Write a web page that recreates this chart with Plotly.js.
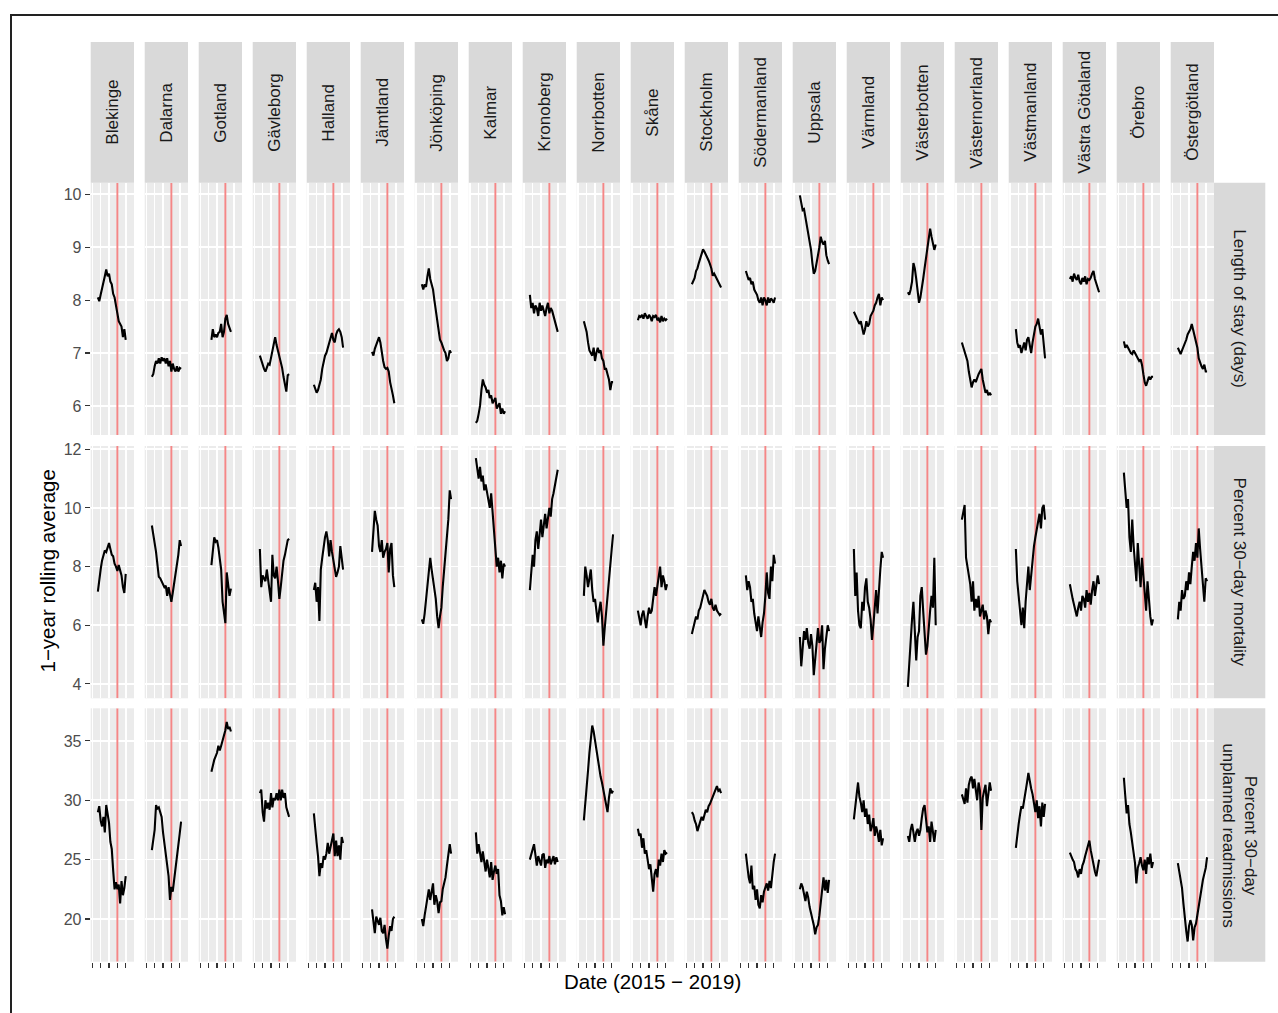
<!DOCTYPE html>
<html><head><meta charset="utf-8">
<script src="https://cdn.plot.ly/plotly-3.0.1.min.js"></script>
<style>html,body{margin:0;padding:0;background:#fff}#chart{width:1278px;height:1013px}</style>
</head><body><div id="chart"></div>
<script>
const _ = null;
const regions = ['Blekinge','Dalarna','Gotland','Gävleborg','Halland','Jämtland','Jönköping','Kalmar','Kronoberg','Norrbotten','Skåne','Stockholm','Södermanland','Uppsala','Värmland','Västerbotten','Västernorrland','Västmanland','Västra Götaland','Örebro','Östergötland'];
const metrics = ['Length of stay (days)','Percent 30−day mortality','Percent 30−day<br>unplanned readmissions'];
const dates = ['2015-09-01','2015-11-01','2016-01-01','2016-03-01','2016-05-01','2016-07-01','2016-09-01','2016-11-01','2017-01-01','2017-03-01','2017-05-01','2017-07-01','2017-09-01','2017-11-01','2018-01-01','2018-03-01','2018-05-01','2018-07-01','2018-09-01','2018-11-01','2019-01-01','2019-03-01'];
const yearTicks = ['2015-01-01','2016-01-01','2017-01-01','2018-01-01','2019-01-01'];
const interventionDate = '2018-01-01';
const yTickVals = [[6,7,8,9,10],[4,6,8,10,12],[20,25,30,35]];

const lengthOfStay = [
 [8.05,7.98,8.1,8.2,8.3,8.45,8.58,8.45,8.5,8.35,8.3,8.12,8.05,7.93,7.75,7.6,7.55,7.5,7.3,7.45,7.25,_],
 [6.55,6.6,6.75,6.85,6.8,6.9,6.8,6.92,6.85,6.9,6.8,6.9,6.75,6.85,6.65,6.8,6.7,6.65,6.75,6.65,6.72,6.7],
 [_,_,_,_,7.25,7.45,7.3,7.35,7.3,7.38,7.4,7.55,7.3,7.4,7.65,7.72,7.55,7.45,7.4,_,_,_],
 [6.95,6.85,6.75,6.7,6.65,6.75,6.8,6.78,6.9,7.0,7.15,7.3,7.15,7.05,6.9,6.8,6.72,6.55,6.4,6.27,6.58,6.6],
 [6.4,6.3,6.25,6.3,6.4,6.5,6.7,6.85,6.95,7.0,7.1,7.2,7.33,7.38,7.25,7.2,7.35,7.42,7.45,7.4,7.3,7.1],
 [_,_,_,7.02,6.95,7.08,7.15,7.24,7.3,7.2,7.0,6.85,6.73,6.7,6.72,6.65,6.45,6.35,6.2,6.05,_,_],
 [8.3,8.2,8.3,8.25,8.45,8.6,8.4,8.3,8.2,8.0,7.8,7.55,7.4,7.25,7.2,7.1,7.05,7.0,6.85,6.9,7.05,7.0],
 [5.68,5.72,5.85,6.0,6.3,6.5,6.4,6.35,6.25,6.3,6.15,6.2,6.05,6.1,6.15,5.95,6.0,6.05,5.85,5.95,5.85,5.9],
 [8.1,7.85,7.95,7.75,7.9,7.85,7.7,7.95,7.8,7.9,7.8,7.7,7.85,7.95,7.75,7.85,7.8,7.7,7.6,7.55,7.4,_],
 [7.6,7.5,7.4,7.2,7.05,7.0,6.95,7.1,6.85,7.0,7.1,7.0,7.05,6.9,6.85,6.7,6.7,6.6,6.5,6.3,6.45,6.45],
 [7.62,7.7,7.68,7.72,7.65,7.75,7.7,7.65,7.72,7.68,7.6,7.7,7.68,7.72,7.62,7.65,7.58,7.7,7.6,7.65,7.62,7.65],
 [8.3,8.35,8.42,8.55,8.6,8.7,8.78,8.85,8.96,8.92,8.87,8.8,8.75,8.68,8.6,8.46,8.5,8.45,8.4,8.34,8.3,8.24],
 [8.55,8.45,8.38,8.42,8.3,8.35,8.2,8.15,8.1,8.0,7.95,8.05,7.9,8.05,8.0,7.9,8.05,7.95,8.03,8.0,7.95,8.05],
 [9.98,9.85,9.7,9.72,9.55,9.45,9.3,9.1,8.95,8.7,8.5,8.55,8.75,8.85,9.0,9.2,9.1,9.05,9.12,8.85,8.75,8.68],
 [7.78,7.72,7.68,7.62,7.55,7.6,7.45,7.35,7.45,7.6,7.5,7.55,7.7,7.75,7.8,7.9,7.95,8.05,8.12,7.9,8.05,8.0],
 [8.15,8.1,8.2,8.35,8.7,8.6,8.4,8.2,7.95,8.05,8.2,8.4,8.6,8.8,9.0,9.25,9.35,9.2,9.1,8.95,9.05,_],
 [7.2,7.1,7.05,6.9,6.85,6.65,6.5,6.35,6.45,6.5,6.45,6.55,6.6,6.65,6.7,6.5,6.4,6.25,6.3,6.2,6.25,6.2],
 [7.45,7.2,7.1,7.15,7.0,7.1,7.2,7.05,7.25,7.3,7.15,7.0,7.2,7.4,7.5,7.55,7.65,7.5,7.35,7.45,7.2,6.9],
 [8.4,8.45,8.35,8.5,8.42,8.38,8.48,8.35,8.3,8.42,8.35,8.45,8.3,8.4,8.38,8.42,8.5,8.55,8.4,8.3,8.2,8.15],
 [7.22,7.1,7.15,7.1,7.05,7.0,6.98,7.05,7.0,6.95,6.92,6.85,6.88,6.78,6.6,6.45,6.38,6.48,6.55,6.5,6.55,6.55],
 [7.1,7.05,6.98,7.05,7.12,7.15,7.25,7.35,7.4,7.45,7.55,7.45,7.3,7.2,7.1,6.9,6.8,6.75,6.7,6.78,6.65,6.65]
];

const mortality = [
 [7.15,7.6,7.9,8.2,8.35,8.55,8.5,8.7,8.8,8.6,8.4,8.35,8.1,8.0,7.85,8.05,7.9,7.7,7.3,7.1,7.75,_],
 [9.4,9.0,8.8,8.5,8.0,7.65,7.6,7.5,7.45,7.3,7.35,7.0,7.3,7.05,6.8,7.1,7.4,7.85,8.1,8.4,8.9,8.7],
 [_,_,_,_,8.05,8.5,9.0,8.85,8.9,8.65,8.3,7.9,6.8,6.5,6.07,7.8,7.3,7.0,7.25,_,_,_],
 [8.6,7.3,7.7,7.6,7.5,7.9,7.5,7.2,6.8,8.4,7.7,7.6,8.0,7.5,6.9,7.3,7.8,8.2,8.4,8.7,8.9,8.95],
 [7.2,7.45,6.8,7.3,6.15,7.9,8.3,8.7,9.0,9.2,8.9,8.35,8.9,8.5,8.2,7.9,7.65,7.8,8.0,8.7,8.2,7.9],
 [_,_,_,8.5,9.3,9.9,9.6,9.4,8.7,8.5,8.9,8.3,8.5,8.6,8.8,7.8,8.6,8.8,7.7,7.3,_,_],
 [6.2,6.05,6.4,6.9,7.5,8.0,8.3,7.9,7.6,7.3,6.9,6.3,5.9,6.3,6.6,7.3,7.9,8.3,9.0,9.6,10.6,10.3],
 [11.7,11.3,11.0,11.4,10.9,11.1,10.6,10.8,10.5,10.2,10.0,10.5,9.8,9.0,8.4,8.0,8.3,7.8,8.2,7.6,8.1,8.0],
 [7.2,7.8,8.4,8.0,8.9,9.2,8.6,9.1,9.6,9.0,9.4,9.8,9.3,9.6,10.0,9.7,10.3,10.5,10.8,11.0,11.3,_],
 [7.0,8.0,7.7,7.3,7.6,7.9,7.2,6.8,6.9,6.4,6.1,6.5,6.8,6.3,5.3,5.9,6.5,7.1,7.6,8.2,8.6,9.1],
 [6.5,6.2,6.0,6.35,6.5,6.2,5.9,6.3,6.6,6.4,6.5,6.9,7.3,7.0,7.4,7.6,8.0,7.3,7.7,7.5,7.2,7.4],
 [5.7,5.9,6.0,6.3,6.2,6.5,6.6,6.8,6.9,7.2,7.1,7.0,6.8,6.7,6.9,6.6,6.5,6.7,6.5,6.4,6.35,6.4],
 [7.7,7.2,7.5,7.3,6.8,6.9,6.4,6.1,5.8,6.3,6.0,5.6,6.1,6.4,7.0,7.8,7.1,6.9,8.0,7.5,8.4,8.1],
 [5.6,4.6,5.2,5.8,5.5,5.9,5.4,5.2,5.7,5.3,4.3,4.9,5.6,5.9,5.4,5.5,6.0,4.5,5.2,5.7,6.0,5.8],
 [8.6,7.0,7.8,6.5,6.0,5.9,6.8,6.5,7.3,7.6,6.8,6.6,6.2,5.5,6.0,6.7,7.2,6.4,7.3,7.9,8.5,8.3],
 [3.9,4.8,5.5,6.2,6.8,6.0,4.8,5.6,5.8,7.0,7.3,6.5,5.9,5.0,5.3,6.0,6.5,7.0,6.6,8.3,6.0,_],
 [9.6,9.9,10.1,8.3,8.0,7.6,7.4,6.8,7.5,6.5,6.9,6.6,7.0,6.3,6.5,6.7,6.2,6.5,6.3,5.7,6.2,6.1],
 [8.6,7.5,7.0,6.5,6.0,6.6,5.9,6.8,7.5,8.0,7.2,7.8,8.3,8.7,9.0,9.3,9.5,9.8,9.3,10.0,10.1,9.6],
 [7.4,7.1,6.9,6.7,6.5,6.3,6.6,6.8,6.5,7.0,6.9,6.6,7.2,6.8,7.1,6.7,7.2,7.5,7.0,7.3,7.7,7.4],
 [11.2,10.6,10.0,10.3,9.0,8.5,9.6,8.7,8.2,7.5,8.8,8.0,7.3,8.3,7.6,7.0,6.5,7.5,6.8,6.3,6.0,6.2],
 [6.2,6.8,6.5,7.2,6.9,7.0,7.5,7.2,7.8,7.4,8.0,8.5,8.2,8.8,8.3,9.3,8.6,8.0,7.3,6.8,7.6,7.5]
];

const readmissions = [
 [29.0,29.5,28.3,27.8,28.6,27.3,29.6,28.6,28.1,26.5,25.9,24.1,22.5,23.1,22.5,22.9,21.3,23.2,22.0,22.6,23.6,_],
 [25.8,26.8,27.5,29.6,29.3,29.4,29.0,28.6,27.3,26.5,25.3,24.4,23.6,21.6,22.7,22.3,23.2,24.4,25.0,26.2,27.2,28.2],
 [_,_,_,_,32.4,33.0,33.4,33.7,34.0,34.6,34.2,34.6,35.0,35.5,35.9,36.6,36.0,36.2,35.8,_,_,_],
 [30.6,30.9,29.0,28.2,30.0,29.3,29.8,29.2,30.6,29.4,30.2,30.0,30.6,30.0,30.9,30.0,30.9,30.2,30.6,29.4,29.0,28.6],
 [28.9,27.9,26.4,25.3,23.6,24.7,24.3,25.3,25.0,25.5,26.4,25.5,26.0,26.7,27.2,25.3,26.6,25.3,26.2,25.0,26.9,26.4],
 [_,_,_,20.8,19.6,18.8,20.2,19.8,19.5,20.1,19.0,18.8,19.5,18.3,17.5,18.6,19.4,19.0,20.0,20.2,_,_],
 [20.0,19.4,20.3,21.0,21.5,22.5,21.6,22.3,23.0,21.2,22.0,21.5,20.5,21.4,21.5,22.5,23.0,23.5,24.5,25.5,26.3,25.5],
 [27.3,25.5,26.3,25.4,24.8,25.7,24.6,24.0,25.0,24.3,23.5,24.8,23.3,24.0,24.5,23.8,24.2,22.0,21.5,20.3,21.0,20.4],
 [25.0,25.5,25.8,26.3,25.4,24.5,25.3,24.9,24.5,25.4,25.5,24.3,25.0,24.7,25.3,24.6,25.0,25.3,24.6,25.2,24.8,_],
 [28.3,29.5,31.0,32.5,34.0,35.2,36.3,35.8,35.0,34.3,33.5,32.8,32.0,31.5,30.8,30.2,29.6,29.0,30.2,31.0,30.6,30.8],
 [27.6,27.0,27.2,26.0,26.8,25.5,25.8,25.0,24.2,24.6,23.5,22.3,23.8,24.2,23.5,25.0,24.5,25.5,24.8,25.8,25.5,25.6],
 [29.0,28.8,28.3,28.0,27.4,27.8,28.2,28.6,28.3,28.8,29.2,29.0,29.5,29.7,30.0,30.4,30.6,31.0,31.2,30.8,30.9,30.6],
 [25.5,24.2,23.5,23.0,24.5,22.5,22.8,21.6,22.5,21.2,20.9,22.0,21.4,22.3,22.6,23.0,22.4,23.2,22.6,23.8,24.8,25.5],
 [22.5,23.0,22.7,22.0,21.5,22.3,21.8,21.0,20.6,20.0,19.5,18.7,19.3,19.5,20.3,21.5,22.8,23.5,22.4,23.3,22.2,23.3],
 [28.4,29.5,30.8,31.5,30.3,29.8,29.0,30.0,28.6,29.3,28.0,28.8,27.4,27.8,28.5,27.0,27.8,27.3,26.5,27.5,26.2,26.8],
 [27.0,26.5,27.5,28.0,27.3,26.5,27.3,27.6,27.0,27.5,28.5,29.3,29.6,28.2,27.3,27.8,26.5,28.2,27.3,26.5,27.5,_],
 [30.5,30.0,29.7,31.0,29.8,31.3,31.8,32.0,31.0,31.8,30.6,30.0,31.5,30.8,27.5,30.2,30.8,31.3,29.5,30.6,31.5,30.8],
 [26.0,27.3,28.0,28.8,29.5,29.3,30.2,31.0,31.5,32.3,31.5,31.0,30.5,29.5,29.0,30.0,28.5,29.5,27.8,29.8,28.6,29.7],
 [25.6,25.2,25.0,24.8,24.2,24.0,23.5,24.2,23.8,24.5,24.8,25.3,25.8,26.3,26.6,25.8,25.2,24.3,24.0,23.6,24.3,25.0],
 [31.9,30.0,28.9,29.6,28.0,27.3,26.4,25.5,24.7,23.0,24.3,24.7,25.2,24.5,24.1,25.0,23.8,25.2,24.6,25.5,24.3,24.8],
 [24.7,24.0,23.3,22.6,21.3,19.8,19.0,18.1,19.4,19.9,19.5,18.2,19.3,19.6,20.4,21.0,21.6,22.4,23.3,23.8,24.3,25.2]
];

const series = [lengthOfStay, mortality, readmissions];

// ---- layout geometry (pixels) ----
const W = 1278, H = 1013;
const FONT = 'Liberation Sans, Arial, Helvetica, sans-serif';
const colLeft = k => 90.7 + 54 * k;
const colW = 43.3;
const rowsPx = [[182.7, 435], [446, 698.3], [708.3, 961.7]];
const yRanges = [[5.45, 10.22], [3.51, 12.11], [16.4, 37.75]];
const xRange = ['2014-10-23', '2019-12-29'];
const px = x => x / W;
const py = y => 1 - y / H;
const xName = k => k === 0 ? 'x' : 'x' + (k + 1);
const yName = j => j === 0 ? 'y' : 'y' + (j + 1);

const traces = [];
const layout = {
  width: W, height: H,
  margin: {l: 0, r: 0, t: 0, b: 0},
  paper_bgcolor: '#ffffff',
  plot_bgcolor: '#EBEBEB',
  showlegend: false,
  font: {family: FONT, color: '#1a1a1a'},
  shapes: [], annotations: []
};

regions.forEach((reg, k) => {
  layout[xName(k).replace('x', 'xaxis')] = {
    type: 'date', domain: [px(colLeft(k)), px(colLeft(k) + colW)], anchor: 'y3',
    range: xRange, tickmode: 'array', tickvals: yearTicks, showticklabels: false,
    ticks: 'outside', ticklen: 5, tickwidth: 1.1, tickcolor: '#333333',
    showgrid: true, gridcolor: '#ffffff', gridwidth: 1.6,
    zeroline: false, showline: false, fixedrange: true
  };
});
metrics.forEach((m, j) => {
  layout[yName(j).replace('y', 'yaxis')] = {
    domain: [py(rowsPx[j][1]), py(rowsPx[j][0])], anchor: 'x',
    range: yRanges[j], tickmode: 'array', tickvals: yTickVals[j],
    ticks: 'outside', ticklen: 5, tickwidth: 1.1, tickcolor: '#333333',
    tickfont: {family: FONT, size: 16, color: '#4D4D4D'},
    showgrid: true, gridcolor: '#ffffff', gridwidth: 1.7,
    zeroline: false, showline: false, fixedrange: true
  };
});

// red intervention lines first (below the data lines)
series.forEach((metricData, j) => {
  metricData.forEach((vals, k) => {
    traces.push({
      type: 'scatter', mode: 'lines', x: [interventionDate, interventionDate], y: yRanges[j],
      xaxis: xName(k), yaxis: yName(j),
      line: {color: '#F58686', width: 1.9},
      hoverinfo: 'skip', showlegend: false
    });
  });
});
series.forEach((metricData, j) => {
  metricData.forEach((vals, k) => {
    traces.push({
      type: 'scatter', mode: 'lines', x: dates, y: vals,
      xaxis: xName(k), yaxis: yName(j),
      line: {color: '#000000', width: 2.1}, connectgaps: false,
      hoverinfo: 'skip', showlegend: false
    });
  });
});

// top strips
regions.forEach((reg, k) => {
  layout.shapes.push({type: 'rect', xref: 'paper', yref: 'paper', layer: 'above',
    x0: px(colLeft(k)), x1: px(colLeft(k) + colW), y0: py(182.7), y1: py(42),
    fillcolor: '#D9D9D9', line: {width: 0}});
  layout.annotations.push({xref: 'paper', yref: 'paper', x: px(colLeft(k) + colW / 2), y: py(112.3),
    text: reg, textangle: -90, showarrow: false, xanchor: 'center', yanchor: 'middle',
    font: {family: FONT, size: 17, color: '#1A1A1A'}});
});
// right strips
metrics.forEach((m, j) => {
  layout.shapes.push({type: 'rect', xref: 'paper', yref: 'paper', layer: 'above',
    x0: px(1214), x1: px(1265.3), y0: py(rowsPx[j][1]), y1: py(rowsPx[j][0]),
    fillcolor: '#D9D9D9', line: {width: 0}});
  layout.annotations.push({xref: 'paper', yref: 'paper', x: px(1239.6), y: py((rowsPx[j][0] + rowsPx[j][1]) / 2),
    text: m, textangle: 90, showarrow: false, xanchor: 'center', yanchor: 'middle',
    font: {family: FONT, size: 17, color: '#1A1A1A'}});
});
// axis titles
layout.annotations.push({xref: 'paper', yref: 'paper', x: px(47), y: py(571.5), text: '1−year rolling average',
  textangle: -90, showarrow: false, xanchor: 'center', yanchor: 'middle', font: {family: FONT, size: 20.5, color: '#000'}});
layout.annotations.push({xref: 'paper', yref: 'paper', x: px(652), y: py(981), text: 'Date (2015 − 2019)',
  showarrow: false, xanchor: 'center', yanchor: 'middle', font: {family: FONT, size: 20.5, color: '#000'}});
// outer frame
layout.shapes.push({type: 'rect', xref: 'paper', yref: 'paper', layer: 'above',
  x0: px(11), x1: px(1300), y0: py(1040), y1: py(15), fillcolor: 'rgba(0,0,0,0)',
  line: {color: '#222222', width: 2}});

Plotly.newPlot('chart', traces, layout, {staticPlot: true, displayModeBar: false});
</script>
</body></html>
